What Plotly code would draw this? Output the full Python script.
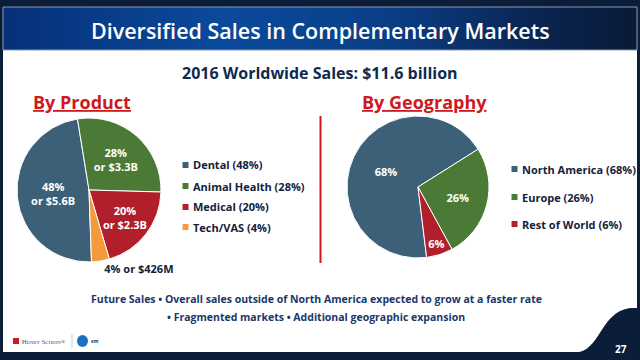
import base64
import plotly.graph_objects as go

# ---------------- data ----------------
product_labels = ["Dental", "Animal Health", "Medical", "Tech/VAS"]
product_share = [48, 28, 20, 4]
product_amount = ["$5.6B", "$3.3B", "$2.3B", "$426M"]
product_colors = ["#3d6079", "#4b7a36", "#b01f2a", "#f39a3b"]

geo_labels = ["North America", "Europe", "Rest of World"]
geo_share = [68, 26, 6]
geo_colors = ["#3d6079", "#4b7a36", "#b01f2a"]

title_text = "Diversified Sales in Complementary Markets"
subtitle_text = "2016 Worldwide Sales: $11.6 billion"
footer_lines = [
    "Future Sales \u2022 Overall sales outside of North America expected to grow at a faster rate",
    "\u2022 Fragmented markets \u2022 Additional geographic expansion",
]
page_number = "27"

W, H = 640, 360
FONT = "Open Sans"
NAVY = "#0c1d3a"
TXT = "#14213a"


def px(x):
    return x / W


def py(y):
    return 1 - y / H


fig = go.Figure()

# ---------------- pies ----------------
prod_tmpl = ["%{value}%<br>or %{customdata}"] * 3 + ["%{value}% or %{customdata}"]
fig.add_trace(go.Pie(
    labels=product_labels, values=product_share, customdata=product_amount,
    sort=False, direction="clockwise", rotation=178,
    marker=dict(colors=product_colors, line=dict(color="white", width=1)),
    texttemplate=prod_tmpl,
    textposition=["inside", "inside", "inside", "outside"],
    insidetextorientation="horizontal",
    insidetextfont=dict(color="white", size=11, family=FONT, weight="bold"),
    outsidetextfont=dict(color=TXT, size=11, family=FONT, weight="bold"),
    domain=dict(x=[px(16), px(162)], y=[py(262), py(118)]),
    showlegend=False, hoverinfo="label+percent",
))

fig.add_trace(go.Pie(
    labels=geo_labels, values=geo_share,
    sort=False, direction="clockwise", rotation=173,
    marker=dict(colors=geo_colors, line=dict(color="white", width=1)),
    texttemplate="%{value}%", textposition="inside",
    insidetextorientation="horizontal",
    insidetextfont=dict(color="white", size=11, family=FONT, weight="bold"),
    domain=dict(x=[px(347), px(489)], y=[py(258), py(116)]),
    showlegend=False, hoverinfo="label+percent",
))

# ---------------- background / frame ----------------
svg = (
    '<svg xmlns="http://www.w3.org/2000/svg" width="640" height="44" preserveAspectRatio="none">'
    '<defs><linearGradient id="g" x1="0" y1="0" x2="1" y2="0">'
    '<stop offset="0" stop-color="#073078"/>'
    '<stop offset="0.35" stop-color="#0a4a9c"/>'
    '<stop offset="0.6" stop-color="#0a3f88"/>'
    '<stop offset="0.85" stop-color="#0a2450"/>'
    '<stop offset="1" stop-color="#081a36"/>'
    '</linearGradient></defs>'
    '<rect width="640" height="44" fill="url(#g)"/></svg>'
)
src = "data:image/svg+xml;base64," + base64.b64encode(svg.encode()).decode()

shapes = []
# white content panel
shapes.append(dict(type="rect", xref="paper", yref="paper",
                   x0=px(3), x1=px(637), y0=py(352), y1=py(50),
                   fillcolor="white", line=dict(width=0), layer="below"))
# banner border
shapes.append(dict(type="rect", xref="paper", yref="paper",
                   x0=px(3), x1=px(637), y0=py(50), y1=py(7),
                   fillcolor="rgba(0,0,0,0)", line=dict(color="#8a9bb5", width=1)))
# bottom-right dark swoosh
swoosh = (f"M {px(575)},{py(352.5)} C {px(600)},{py(352.5)} {px(600)},{py(312)} "
          f"{px(630)},{py(308)} L {px(638)},{py(308)} L {px(638)},{py(353)} Z")
shapes.append(dict(type="path", xref="paper", yref="paper", path=swoosh,
                   fillcolor=NAVY, line=dict(width=0)))
# red divider
shapes.append(dict(type="line", xref="paper", yref="paper",
                   x0=px(320.5), x1=px(320.5), y0=py(116), y1=py(263),
                   line=dict(color="#d0161f", width=2)))

annotations = []


def text(x, y, s, size, color, weight="bold", xanchor="center", family=FONT):
    annotations.append(dict(x=px(x), y=py(y), xref="paper", yref="paper", text=s,
                            showarrow=False, xanchor=xanchor, yanchor="middle",
                            font=dict(size=size, color=color, family=family, weight=weight)))


text(320, 30, title_text, 21.5, "white", weight=600)
text(320, 73, subtitle_text, 16, "#0f2a4f", weight="bold")
text(82, 102, "<u>By Product</u>", 18, "#cc1a1f")
text(424, 102, "<u>By Geography</u>", 18, "#cc1a1f")

# legends
left_y = [165, 186, 207, 227]
for lab, val, col, yy in zip(product_labels, product_share, product_colors, left_y):
    shapes.append(dict(type="rect", xref="paper", yref="paper",
                       x0=px(182.5), x1=px(188.5), y0=py(yy + 3), y1=py(yy - 3),
                       fillcolor=col, line=dict(width=0)))
    text(191, yy, f"{lab} ({val}%)", 11, TXT, xanchor="left")

right_y = [169, 197, 224]
for lab, val, col, yy in zip(geo_labels, geo_share, geo_colors, right_y):
    shapes.append(dict(type="rect", xref="paper", yref="paper",
                       x0=px(511.5), x1=px(517.5), y0=py(yy + 3), y1=py(yy - 3),
                       fillcolor=col, line=dict(width=0)))
    text(520, yy, f"{lab} ({val}%)", 11, TXT, xanchor="left")

# footer
text(316, 299, footer_lines[0], 10.5, "#1b3768")
text(316, 317, footer_lines[1], 10.5, "#1b3768")
text(621, 349, page_number, 10, "white")

# logos (approximate)
shapes.append(dict(type="rect", xref="paper", yref="paper",
                   x0=px(13), x1=px(19), y0=py(344), y1=py(338),
                   fillcolor="#d0161f", line=dict(width=0)))
text(20, 341, "H<span style='font-size:5px'>ENRY</span> S<span style='font-size:5px'>CHEIN</span>\u00ae",
     6.5, "#3a4a6a", weight="normal", xanchor="left", family="Liberation Serif")
shapes.append(dict(type="line", xref="paper", yref="paper",
                   x0=px(72), x1=px(72), y0=py(334), y1=py(348),
                   line=dict(color="#c8ccd6", width=1)))
shapes.append(dict(type="circle", xref="paper", yref="paper",
                   x0=px(77), x1=px(88), y0=py(347), y1=py(335),
                   fillcolor="#1d6fc4", line=dict(width=0)))
text(89, 341, "<b>sm</b>", 5, "#1b3768", xanchor="left")

fig.update_layout(
    width=W, height=H,
    margin=dict(l=0, r=0, t=0, b=0),
    paper_bgcolor=NAVY, plot_bgcolor=NAVY,
    shapes=shapes, annotations=annotations,
    images=[dict(source=src, xref="paper", yref="paper", x=px(3), y=py(7),
                 sizex=px(637) - px(3), sizey=(43 / H), xanchor="left", yanchor="top",
                 sizing="stretch", layer="below")],
    showlegend=False,
)

fig.write_html("out.html", config={"displayModeBar": False},
               post_script="document.body.style.margin='0';")
